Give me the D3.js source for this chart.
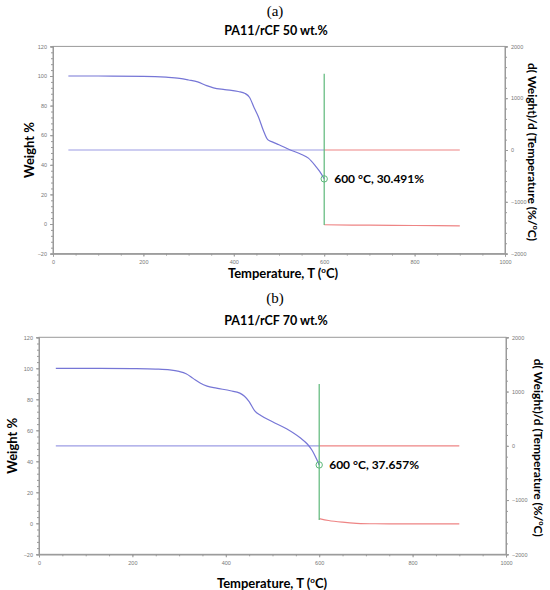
<!DOCTYPE html>
<html>
<head>
<meta charset="utf-8">
<script src="https://cdn.jsdelivr.net/npm/d3@7"></script>
<style>
  body { margin: 0; background: white; }
  text { font-family: Lato, "Open Sans", sans-serif; }
</style>
</head>
<body>
<div id="container"></div>
<script>
// TGA curves: temperature (C) and weight (%)
let tempA = [34, 100, 200, 250, 280, 300, 320, 340, 355, 380, 410, 425, 435, 445, 455, 465, 475, 485, 500, 525, 550, 565, 580, 590, 600];
let weightA = [100, 100, 99.8, 99.2, 98.4, 97.3, 96, 93.5, 92, 90.8, 89.5, 88.2, 85.5, 78.5, 72, 63.5, 57, 55.5, 53.5, 50, 47, 44.5, 39.5, 35.5, 30.491];
let tailTempA = [600, 700, 800, 900];
let tailWeightA = [-0.5, -0.8, -1, -1.2];

let tempB = [36, 100, 200, 250, 280, 300, 315, 330, 345, 360, 380, 410, 430, 440, 450, 462, 475, 500, 530, 560, 575, 585, 592, 600];
let weightB = [100, 100, 99.8, 99.5, 99, 98, 96.5, 93.5, 90.5, 88.5, 87.2, 85.5, 84, 82, 78.5, 72.5, 69.5, 65.5, 61, 55, 51, 47, 43, 37.657];
let tailTempB = [600, 620, 650, 680, 720, 800, 900];
let tailWeightB = [3, 1.8, 0.7, 0, -0.3, -0.4, -0.4];

// derivative trace (right axis) and the vertical cursor at 600 C
let derivStart = [34, 36];
let derivSplit = 600;
let derivEnd = 900;
let cursorA = [1470, -1450];
let cursorB = [1140, -1370];

let pointA = [600, 30.491];
let pointB = [600, 37.657];

let titles = ["PA11/rCF 50 wt.%", "PA11/rCF 70 wt.%"];
let letters = ["(a)", "(b)"];

let leftTicks = [-20, 0, 20, 40, 60, 80, 100, 120];
let rightTicks = [-2000, -1000, 0, 1000, 2000];
let xTicks = [0, 200, 400, 600, 800, 1000];

let w = 550;
let h = 590;

let blue = "#7676d6";
let red = "#ee8484";
let green = "#5cb879";
let axisGrey = "#9a9a9a";

let viz = d3.select("#container")
  .append("svg")
  .attr("width", w)
  .attr("height", h)
  .style("background-color", "white");

function drawPanel(p) {
  let xScale = d3.scaleLinear().domain([0, 1000]).range([p.left, p.right]);
  let yScale = d3.scaleLinear().domain([-20, 120]).range([p.bottom, p.top]);
  let rScale = d3.scaleLinear().domain([-2000, 2000]).range([p.bottom, p.top]);
  let plain = d3.format("d");

  let g = viz.append("g");

  // frame
  g.append("rect")
    .attr("x", p.left).attr("y", p.top)
    .attr("width", p.right - p.left).attr("height", p.bottom - p.top)
    .attr("fill", "none").attr("stroke", axisGrey).attr("stroke-width", 1);

  // axes
  let xAxis = g.append("g").attr("transform", "translate(0," + p.bottom + ")")
    .call(d3.axisBottom(xScale).tickValues(xTicks).tickFormat(plain).tickSize(3).tickPadding(4));
  let xMinor = g.append("g").attr("transform", "translate(0," + p.bottom + ")")
    .call(d3.axisBottom(xScale).ticks(20).tickSize(2).tickFormat(""));

  let yAxis = g.append("g").attr("transform", "translate(" + p.left + ",0)")
    .call(d3.axisLeft(yScale).tickValues(leftTicks).tickFormat(plain).tickSize(3).tickPadding(3));
  let yMinor = g.append("g").attr("transform", "translate(" + p.left + ",0)")
    .call(d3.axisLeft(yScale).tickValues(d3.range(-20, 121, 4)).tickSize(2).tickFormat(""));

  let rAxis = g.append("g").attr("transform", "translate(" + p.right + ",0)")
    .call(d3.axisRight(rScale).tickValues(rightTicks).tickFormat(plain).tickSize(3).tickPadding(3));
  let rMinor = g.append("g").attr("transform", "translate(" + p.right + ",0)")
    .call(d3.axisRight(rScale).tickValues(d3.range(-2000, 2001, 200)).tickSize(2).tickFormat(""));

  [xAxis, xMinor, yAxis, yMinor, rAxis, rMinor].forEach(function (a) {
    a.select(".domain").attr("stroke", axisGrey);
    a.selectAll("line").attr("stroke", axisGrey);
    a.selectAll("text").attr("fill", "#777").style("font-size", "5.5px")
      .style("font-family", "Arial, 'Liberation Sans', sans-serif");
  });

  // derivative trace: blue before the cursor, red after
  let dLine = d3.line().x(function (d) { return xScale(d[0]); }).y(function (d) { return rScale(d[1]); });
  g.append("path").attr("d", dLine([[p.dStart, 0], [derivSplit, 0]]))
    .attr("fill", "none").attr("stroke", "#9c9ce4").attr("stroke-width", 1.2);
  g.append("path").attr("d", dLine([[derivSplit, 0], [derivEnd, 0]]))
    .attr("fill", "none").attr("stroke", red).attr("stroke-width", 1.2);

  // weight curve
  let wLine = d3.line().curve(d3.curveMonotoneX)
    .x(function (d) { return xScale(d[0]); })
    .y(function (d) { return yScale(d[1]); });
  g.append("path").attr("d", wLine(d3.zip(p.temp, p.weight)))
    .attr("fill", "none").attr("stroke", blue).attr("stroke-width", 1.2);
  g.append("path").attr("d", wLine(d3.zip(p.tailTemp, p.tailWeight)))
    .attr("fill", "none").attr("stroke", red).attr("stroke-width", 1.2);

  // vertical cursor
  g.append("line")
    .attr("x1", xScale(derivSplit)).attr("x2", xScale(derivSplit))
    .attr("y1", rScale(p.cursor[0])).attr("y2", rScale(p.cursor[1]))
    .attr("stroke", green).attr("stroke-width", 1.2);

  // marked point
  g.append("circle")
    .attr("cx", xScale(p.point[0])).attr("cy", yScale(p.point[1]))
    .attr("r", 3.2).attr("fill", "none").attr("stroke", green).attr("stroke-width", 1);
  g.append("text")
    .attr("x", xScale(p.point[0]) + 10).attr("y", yScale(p.point[1]) + 4.5)
    .attr("font-size", "12px").attr("font-weight", "bold")
    .text(p.point[0] + " \u00b0C, " + p.point[1].toFixed(3) + "%");

  // titles
  g.append("text").attr("x", 275).attr("y", p.letterY)
    .attr("text-anchor", "middle").style("font-family", "'Liberation Serif', 'DejaVu Serif', serif")
    .attr("font-size", "15px").text(p.letter);
  g.append("text").attr("x", 276).attr("y", p.titleY)
    .attr("text-anchor", "middle").attr("font-weight", "bold")
    .attr("font-size", "12.5px").text(p.title);

  // axis titles
  let xl = g.append("text").attr("x", p.xLabelX).attr("y", p.xLabelY)
    .attr("text-anchor", "middle").attr("font-weight", "bold").attr("font-size", "13px");
  xl.append("tspan").text("Temperature, T (");
  xl.append("tspan").attr("font-size", "8px").attr("dy", "-5").text("o");
  xl.append("tspan").attr("dy", "5").text("C)");

  g.append("text")
    .attr("transform", "translate(" + p.yLabelX + "," + ((p.top + p.bottom) / 2) + ") rotate(-90)")
    .attr("text-anchor", "middle").attr("font-weight", "bold").attr("font-size", "13px")
    .text("Weight %");

  let rl = g.append("text")
    .attr("transform", "translate(" + p.rLabelX + "," + ((p.top + p.bottom) / 2 + 2) + ") rotate(90)")
    .attr("text-anchor", "middle").attr("font-weight", "bold").attr("font-size", "12px");
  rl.append("tspan").text("d( Weight)/d (Temperature (%/");
  rl.append("tspan").attr("font-size", "7.5px").attr("dy", "-4.5").text("o");
  rl.append("tspan").attr("dy", "4.5").text("C)");
}

drawPanel({
  left: 53, right: 505, top: 46.4, bottom: 253.6,
  temp: tempA, weight: weightA, tailTemp: tailTempA, tailWeight: tailWeightA,
  dStart: derivStart[0], cursor: cursorA, point: pointA,
  letter: letters[0], title: titles[0], letterY: 16, titleY: 35,
  xLabelX: 283, xLabelY: 278, yLabelX: 34, rLabelX: 528
});

drawPanel({
  left: 39, right: 506, top: 337.3, bottom: 554.3,
  temp: tempB, weight: weightB, tailTemp: tailTempB, tailWeight: tailWeightB,
  dStart: derivStart[1], cursor: cursorB, point: pointB,
  letter: letters[1], title: titles[1], letterY: 303, titleY: 325,
  xLabelX: 272, xLabelY: 588, yLabelX: 17, rLabelX: 534
});
</script>
</body>
</html>
